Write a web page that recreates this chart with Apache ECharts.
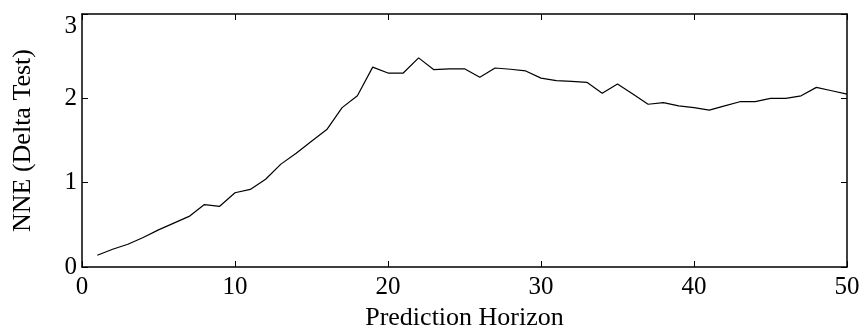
<!DOCTYPE html>
<html>
<head>
<meta charset="utf-8">
<script src="https://cdn.jsdelivr.net/npm/echarts@6/dist/echarts.min.js"></script>
<style>
  html, body { margin: 0; padding: 0; background: #fff; }
  #main { width: 863px; height: 329px; }
</style>
</head>
<body>
<div id="main"></div>
<script>
(function () {
    'use strict';

    // prediction horizon steps and NNE values
    var horizon = [1, 2, 3, 4, 5, 6, 7, 8, 9, 10,
                   11, 12, 13, 14, 15, 16, 17, 18, 19, 20,
                   21, 22, 23, 24, 25, 26, 27, 28, 29, 30,
                   31, 32, 33, 34, 35, 36, 37, 38, 39, 40,
                   41, 42, 43, 44, 45, 46, 47, 48, 49, 50];
    var nne = [0.14, 0.21, 0.27, 0.35, 0.44, 0.52, 0.60, 0.74, 0.72, 0.88,
               0.92, 1.04, 1.22, 1.35, 1.49, 1.63, 1.89, 2.03, 2.37, 2.30,
               2.30, 2.48, 2.34, 2.35, 2.35, 2.25, 2.36, 2.345, 2.325, 2.24,
               2.21, 2.20, 2.19, 2.06, 2.17, 2.05, 1.93, 1.95, 1.91, 1.89,
               1.86, 1.91, 1.96, 1.96, 2.00, 2.00, 2.03, 2.13, 2.09, 2.05];
    var xTicks = { min: 0, max: 50, interval: 10 };
    var yTicks = { min: 0, max: 3, interval: 1 };

    var font = 'Liberation Serif';
    var axisLine = { show: true, onZero: false, lineStyle: { color: '#000', width: 1.5 } };
    var tick = { show: true, inside: true, length: 6, lineStyle: { color: '#000', width: 1 } };

    var points = horizon.map(function (h, i) { return [h, nne[i]]; });

    var myChart = echarts.init(document.getElementById('main'));
    myChart.setOption({
        animation: false,
        backgroundColor: '#fff',
        grid: { left: 82, right: 16, top: 14, bottom: 62, outerBoundsMode: 'none', containLabel: false },
        xAxis: [{
            type: 'value', position: 'bottom',
            min: xTicks.min, max: xTicks.max, interval: xTicks.interval,
            name: 'Prediction Horizon', nameLocation: 'middle', nameGap: 29,
            nameTextStyle: { fontFamily: font, fontSize: 26, color: '#000' },
            axisLine: axisLine, axisTick: tick,
            axisLabel: { fontFamily: font, fontSize: 25, color: '#000', margin: 8 },
            splitLine: { show: false }
        }, {
            type: 'value', position: 'top',
            min: xTicks.min, max: xTicks.max, interval: xTicks.interval,
            axisLine: axisLine, axisTick: tick,
            axisLabel: { show: false }, splitLine: { show: false }
        }],
        yAxis: [{
            type: 'value', position: 'left',
            min: yTicks.min, max: yTicks.max, interval: yTicks.interval,
            name: 'NNE (Delta Test)', nameLocation: 'middle', nameGap: 46,
            nameTextStyle: { fontFamily: font, fontSize: 26, color: '#000' },
            axisLine: axisLine, axisTick: tick,
            axisLabel: {
                fontFamily: font, fontSize: 25, color: '#000', margin: 5,
                verticalAlignMaxLabel: 'top'
            },
            splitLine: { show: false }
        }, {
            type: 'value', position: 'right',
            min: yTicks.min, max: yTicks.max, interval: yTicks.interval,
            axisLine: axisLine, axisTick: tick,
            axisLabel: { show: false }, splitLine: { show: false }
        }],
        series: [{
            type: 'line',
            data: points,
            showSymbol: false,
            lineStyle: { color: '#000', width: 1.2 }
        }]
    });
})();
</script>
</body>
</html>
